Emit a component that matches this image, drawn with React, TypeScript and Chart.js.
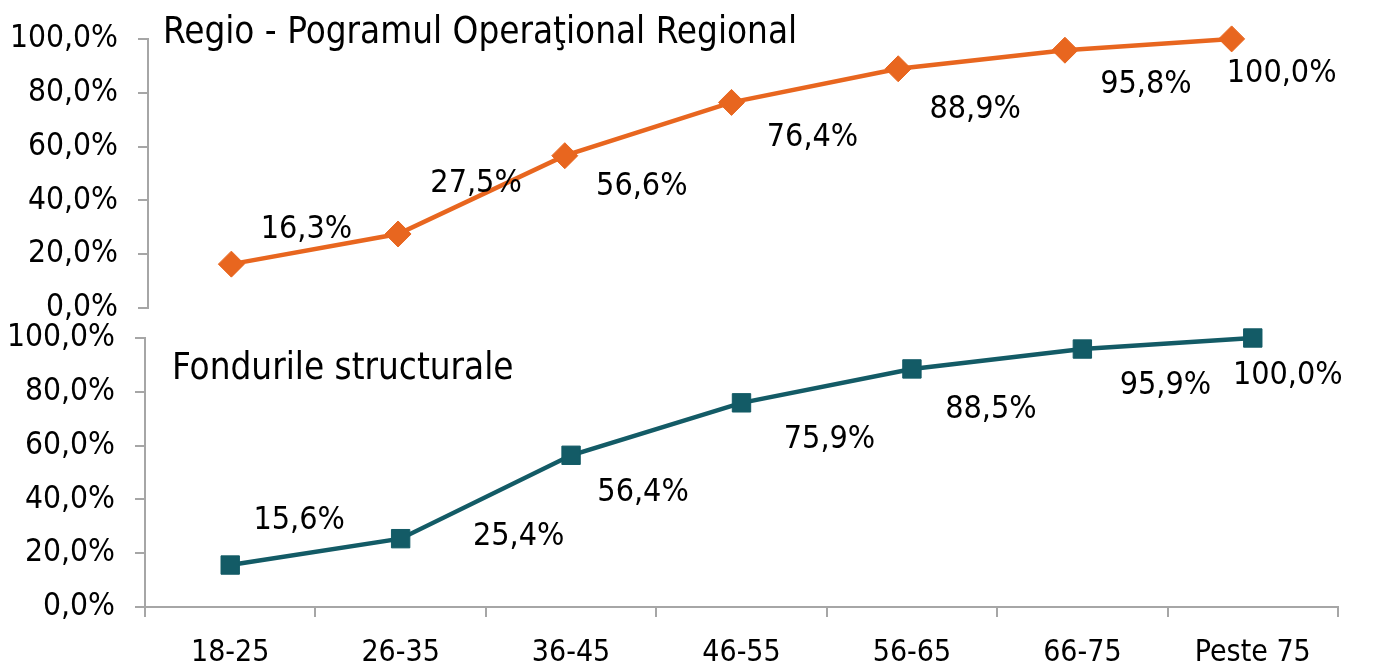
import React, { useEffect, useRef } from 'react';
import { Chart, registerables } from 'chart.js';

Chart.register(...registerables);

const categories = ['18-25', '26-35', '36-45', '46-55', '56-65', '66-75', 'Peste 75'];
const regioValues = [16.3, 27.5, 56.6, 76.4, 88.9, 95.8, 100.0];
const fonduriValues = [15.6, 25.4, 56.4, 75.9, 88.5, 95.9, 100.0];
const yTickMin = 0;
const yTickMax = 100;
const yTickStep = 20;
const regioTitle = 'Regio - Pogramul Operaţional Regional';
const fonduriTitle = 'Fondurile structurale';

// label placement (offset from the point, in px)
const regioLabelOffsets = [[75, -34], [78, -50], [77, 31], [81, 35], [77, 41], [81, 34], [50, 35]];
const fonduriLabelOffsets = [[69, -44], [118, -2], [72, 37], [88, 37], [79, 41], [83, 37], [35, 38]];

const FONT = '"DejaVu Sans Condensed", "DejaVu Sans", sans-serif';
const AXIS_GRAY = '#a6a6a6';
const ORANGE = '#e8661f';
const TEAL = '#135b66';

const fmt = (v: number) => v.toFixed(1).replace('.', ',') + '%';

const overlayPlugin = {
  id: 'overlay',
  afterDatasetsDraw(chart: any, _args: any, opts: any) {
    const { ctx, chartArea } = chart;
    const meta = chart.getDatasetMeta(0);
    const values = chart.data.datasets[0].data as number[];
    ctx.save();
    ctx.fillStyle = '#000';
    ctx.font = `32px ${FONT}`;
    ctx.textAlign = 'center';
    ctx.textBaseline = 'middle';
    meta.data.forEach((pt: any, i: number) => {
      const [dx, dy] = opts.offsets[i];
      ctx.fillText(fmt(values[i]), pt.x + dx, pt.y + dy);
    });
    ctx.font = `36.5px ${FONT}`;
    ctx.textAlign = 'left';
    ctx.textBaseline = 'alphabetic';
    ctx.fillText(opts.title, chartArea.left + opts.titleDx, chartArea.top + opts.titleDy);
    ctx.restore();
  },
};

function makeConfig(opts: {
  values: number[];
  color: string;
  pointStyle: string;
  radius: number;
  offsets: number[][];
  title: string;
  titleDx: number;
  titleDy: number;
  padding: any;
  yWidth: number;
  showX: boolean;
  xHeight: number;
}): any {
  return {
    type: 'line',
    data: {
      labels: categories,
      datasets: [
        {
          data: opts.values,
          borderColor: opts.color,
          backgroundColor: opts.color,
          borderWidth: 4.5,
          pointStyle: opts.pointStyle,
          pointRadius: opts.radius,
          pointHoverRadius: opts.radius,
          pointBorderWidth: 1,
          pointBackgroundColor: opts.color,
          pointBorderColor: opts.color,
          tension: 0,
          clip: false,
        },
      ],
    },
    options: {
      responsive: false,
      animation: false,
      events: [],
      layout: { padding: opts.padding },
      plugins: {
        legend: { display: false },
        tooltip: { enabled: false },
        title: { display: false },
        overlay: {
          offsets: opts.offsets,
          title: opts.title,
          titleDx: opts.titleDx,
          titleDy: opts.titleDy,
        },
      },
      scales: {
        x: {
          type: 'category',
          offset: true,
          display: opts.showX,
          afterFit: (s: any) => {
            s.height = opts.xHeight;
          },
          grid: {
            offset: true,
            drawOnChartArea: false,
            drawTicks: true,
            tickLength: 10,
            color: AXIS_GRAY,
            lineWidth: 2,
          },
          border: { display: true, color: AXIS_GRAY, width: 2 },
          ticks: {
            color: '#000',
            padding: 18,
            font: { family: FONT, size: 30 },
            maxRotation: 0,
            autoSkip: false,
          },
        },
        y: {
          min: yTickMin,
          max: yTickMax,
          afterFit: (s: any) => {
            s.width = opts.yWidth;
          },
          grid: {
            drawOnChartArea: false,
            drawTicks: true,
            tickLength: 10,
            color: AXIS_GRAY,
            lineWidth: 2,
          },
          border: { display: true, color: AXIS_GRAY, width: 2 },
          ticks: {
            stepSize: yTickStep,
            color: '#000',
            padding: 20,
            font: { family: FONT, size: 31.5 },
            callback: (v: any) => fmt(Number(v)),
          },
        },
      },
    },
    plugins: [overlayPlugin],
  };
}

export default function App() {
  const topRef = useRef<HTMLCanvasElement>(null);
  const bottomRef = useRef<HTMLCanvasElement>(null);

  useEffect(() => {
    const top = new Chart(
      topRef.current as HTMLCanvasElement,
      makeConfig({
        values: regioValues,
        color: ORANGE,
        pointStyle: 'rectRot',
        radius: 13,
        offsets: regioLabelOffsets,
        title: regioTitle,
        titleDx: 15,
        titleDy: 4,
        padding: { top: 37, left: 0, right: 65, bottom: 358 },
        yWidth: 148,
        showX: false,
        xHeight: 0,
      })
    );
    const bottom = new Chart(
      bottomRef.current as HTMLCanvasElement,
      makeConfig({
        values: fonduriValues,
        color: TEAL,
        pointStyle: 'rect',
        radius: 13,
        offsets: fonduriLabelOffsets,
        title: fonduriTitle,
        titleDx: 27,
        titleDy: 41,
        padding: { top: 338, left: 0, right: 42, bottom: 0 },
        yWidth: 145,
        showX: true,
        xHeight: 59,
      })
    );
    return () => {
      top.destroy();
      bottom.destroy();
    };
  }, []);

  const canvasStyle: React.CSSProperties = { position: 'absolute', left: 0, top: 0, width: 1380, height: 666 };

  return (
    <div style={{ position: 'absolute', left: 0, top: 0, width: 1380, height: 666, background: '#fff' }}>
      <canvas ref={bottomRef} width={1380} height={666} style={canvasStyle} />
      <canvas ref={topRef} width={1380} height={666} style={canvasStyle} />
    </div>
  );
}
